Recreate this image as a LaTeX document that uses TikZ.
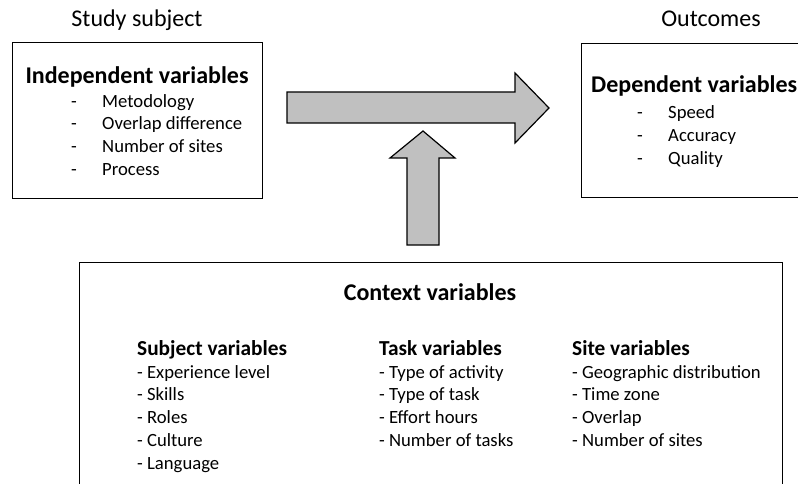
\documentclass[tikz,border=0pt]{standalone}
\usepackage{fontspec}
\setmainfont{Carlito}
\usetikzlibrary{positioning}
\definecolor{arrowgray}{RGB}{192,192,192}
\newcommand{\dashitem}{\makebox[31pt][l]{-}}

\begin{document}
\begin{tikzpicture}[x=1pt,y=-1pt,
    varbox/.style={draw,line width=1.2pt,inner sep=0pt,anchor=north west},
    bigarrow/.style={draw,line width=1.2pt,fill=arrowgray},
    title/.style={font=\fontsize{24}{29}\selectfont,inner sep=0pt,anchor=base},
    heading/.style={font=\bfseries\fontsize{24}{29}\selectfont,inner sep=0pt},
    subheading/.style={font=\bfseries\fontsize{21.33}{26}\selectfont,inner sep=0pt,anchor=base west},
    itemlist/.style={font=\fontsize{18.67}{22.8}\selectfont,align=left,inner sep=0pt,anchor=base west}]
    \useasboundingbox (0,0) rectangle (798,484);
    \clip (0,0) rectangle (798,484);

    % Study subject (lists are placed by the baseline of their last line)
    \node[title] (subject) at (137,27) {Study subject};
    \node[varbox,minimum width=250pt,minimum height=156pt] (indepbox) at (12,42) {};
    \node[heading,anchor=base] (indep) at (137,84) {Independent variables};
    \node[itemlist] (indeplist) at (71,175.4) {\dashitem Metodology\\ \dashitem Overlap difference\\
        \dashitem Number of sites\\ \dashitem Process};

    % Outcomes
    \node[title] (outcomes) at (711,27) {Outcomes};
    \node[varbox,minimum width=260pt,minimum height=154pt] (depbox) at (581,43) {};
    \node[heading,anchor=base west] (dep) at (591,93) {Dependent variables};
    \node[itemlist] (deplist) at (637,164.6) {\dashitem Speed\\ \dashitem Accuracy\\ \dashitem Quality};

    % Context variables
    \node[varbox,minimum width=703pt,minimum height=300pt] (contextbox) at (79,262) {};
    \node[heading,anchor=base] (context) at (430,300) {Context variables};
    \node[subheading] (subjvars) at (137,355) {Subject variables};
    \node[itemlist] (subjlist) at (137,469.2) {- Experience level\\ - Skills\\ - Roles\\ - Culture\\ - Language};
    \node[subheading] (taskvars) at (379,355) {Task variables};
    \node[itemlist] (tasklist) at (379,446.4) {- Type of activity\\ - Type of task\\ - Effort hours\\ - Number of tasks};
    \node[subheading] (sitevars) at (572,355) {Site variables};
    \node[itemlist] (sitelist) at (572,446.4) {- Geographic distribution\\ - Time zone\\ - Overlap\\ - Number of sites};

    % Arrows
    \draw[bigarrow] (287,92) -- (515,92) -- (515,73) -- (549,108) -- (515,143) -- (515,123) -- (287,123) -- cycle;
    \draw[bigarrow] (407,245) -- (407,158) -- (390,158) -- (423,131) -- (455,158) -- (439,158) -- (439,245) -- cycle;
\end{tikzpicture}
\end{document}
